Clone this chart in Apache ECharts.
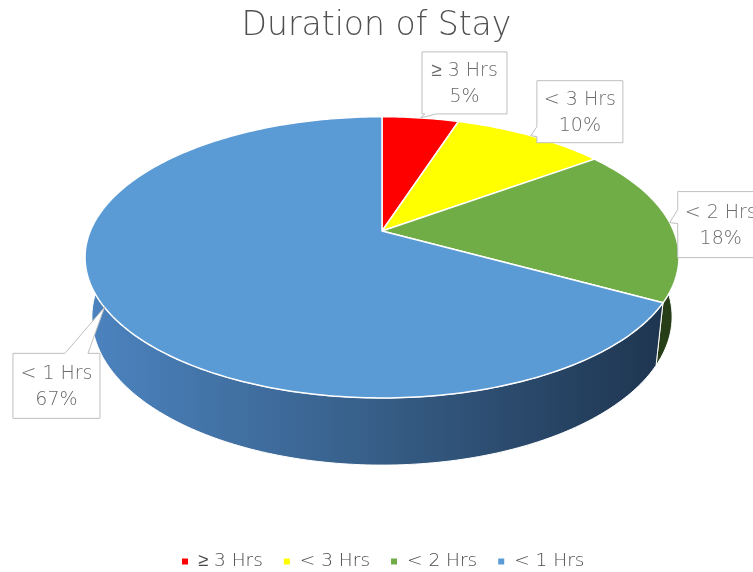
<!DOCTYPE html>
<html><head><meta charset="utf-8">
<script src="https://cdn.jsdelivr.net/npm/echarts/dist/echarts.min.js"></script>
<style>html,body{margin:0;padding:0;background:#fff}#chart{width:753px;height:572px}</style>
</head><body><div id="chart"></div>
<script>
// ---- data ----
const categories = ['≥ 3 Hrs', '< 3 Hrs', '< 2 Hrs', '< 1 Hrs'];
const values = [5, 10, 18, 67];
const titleText = 'Duration of Stay';

// ---- styles ----
const topColors = ['#FF0000', '#FFFF00', '#70AD47', '#5B9BD5'];
const wallStops = [
  ['#b30000', '#7a0000'],
  ['#b3b300', '#7a7a00'],
  ['#35541f', '#263d17'],
  ['#4c84c0', '#365d86', '#1d334d']
];
const FONT = '"DejaVu Sans", sans-serif';
const WEIGHT = 200;

// ---- 3D projection layout (Excel-like perspective pie) ----
const CX = 382, CY = 231, F = 1378.5, RAD = 0.2116, THICK = 0.0491;
const TH = 27.72 * Math.PI / 180, ST = Math.sin(TH), CT = Math.cos(TH);
function proj(x, y, z) {
  const d = 1 - y * ST - z * CT;
  const u = y * CT - z * ST;
  return [CX + F * x / d, CY - F * u / d];
}
function rim(deg, y) {
  const p = deg * Math.PI / 180;
  return proj(RAD * Math.sin(p), y, -RAD * Math.cos(p));
}

// callout layout relative to the rim point at the slice's middle angle
const callouts = [
  { dx: 1.5, dy: -66, w: 85, h: 62, side: 'bottom', b1: 3, b2: 14 },
  { dx: 6, dy: -55, w: 86, h: 62, side: 'left', b1: 46, b2: 56 },
  { dx: 8, dy: -31, w: 86, h: 66, side: 'left', b1: 18, b2: 32 },
  { dx: -91.5, dy: 46, w: 87, h: 65, side: 'top', b1: 52, b2: 75 }
];

const total = values.reduce((s, v) => s + v, 0);
const startAngles = [];
{
  let acc = 0;
  values.forEach(v => { startAngles.push(acc / total * 360); acc += v; });
}
const sweeps = values.map(v => v / total * 360);

function calloutPoints(c, tip) {
  const x = tip[0] + c.dx, y = tip[1] + c.dy, w = c.w, h = c.h;
  const TL = [x, y], TR = [x + w, y], BR = [x + w, y + h], BL = [x, y + h];
  switch (c.side) {
    case 'top': return [TL, [x + c.b1, y], tip, [x + c.b2, y], TR, BR, BL];
    case 'right': return [TL, TR, [x + w, y + c.b1], tip, [x + w, y + c.b2], BR, BL];
    case 'bottom': return [TL, TR, BR, [x + c.b2, y + h], tip, [x + c.b1, y + h], BL];
    default: return [TL, TR, BR, BL, [x, y + c.b2], tip, [x, y + c.b1]];
  }
}

function makeRender(i) {
  return function (params, api) {
    const a0 = startAngles[i];
    const a1 = a0 + sweeps[i];
    const n = Math.max(2, Math.ceil(a1 - a0));
    const topPts = [], botPts = [];
    for (let k = 0; k <= n; k++) {
      const a = a0 + (a1 - a0) * k / n;
      topPts.push(rim(a, 0));
      botPts.push(rim(a, -THICK));
    }
    const stops = wallStops[i].map((c, j, arr) => ({ offset: j / (arr.length - 1), color: c }));
    const wallFill = new echarts.graphic.LinearGradient(85, 0, 679, 0, stops, true);
    const center = proj(0, 0, 0);
    const children = [];
    children.push({
      type: 'polygon', z2: 1,
      shape: { points: topPts.concat(botPts.slice().reverse()) },
      style: { fill: wallFill, stroke: '#ffffff', lineWidth: 1 }
    });
    children.push({
      type: 'polygon', z2: 10,
      shape: { points: [center].concat(topPts) },
      style: { fill: api.visual('color'), stroke: '#ffffff', lineWidth: 1.5, lineJoin: 'round' }
    });
    // callout label
    const c = callouts[i];
    const tip = rim((a0 + a1) / 2, 0);
    children.push({
      type: 'polygon', z2: 20,
      shape: { points: calloutPoints(c, tip) },
      style: { fill: '#ffffff', stroke: '#bfbfbf', lineWidth: 1 }
    });
    const pct = Math.round(values[i] / total * 100) + '%';
    children.push({
      type: 'text', z2: 21,
      x: tip[0] + c.dx + c.w / 2,
      y: tip[1] + c.dy + c.h / 2 + 1,
      style: {
        text: categories[i] + '\n' + pct,
        fill: '#6a6a6a', fontSize: 19, fontFamily: FONT, fontWeight: WEIGHT,
        align: 'center', verticalAlign: 'middle', lineHeight: 26
      }
    });
    return { type: 'group', children };
  };
}

const chart = echarts.init(document.getElementById('chart'), null, { renderer: 'canvas' });
chart.setOption({
  animation: false,
  backgroundColor: '#ffffff',
  title: {
    text: titleText, left: 'center', top: 5,
    textStyle: { fontFamily: FONT, fontSize: 33, fontWeight: WEIGHT, color: '#505050' }
  },
  legend: {
    data: categories,
    left: 177, top: 547,
    icon: 'rect', itemWidth: 6, itemHeight: 6, itemGap: 21,
    textStyle: { fontFamily: FONT, fontSize: 18.5, fontWeight: WEIGHT, color: '#4a4a4a', padding: [0, 0, 0, 5] }
  },
  series: categories.map((name, i) => ({
    type: 'custom',
    name: name,
    coordinateSystem: 'none',
    itemStyle: { color: topColors[i] },
    data: [[values[i]]],
    renderItem: makeRender(i)
  }))
});
</script>
</body></html>
